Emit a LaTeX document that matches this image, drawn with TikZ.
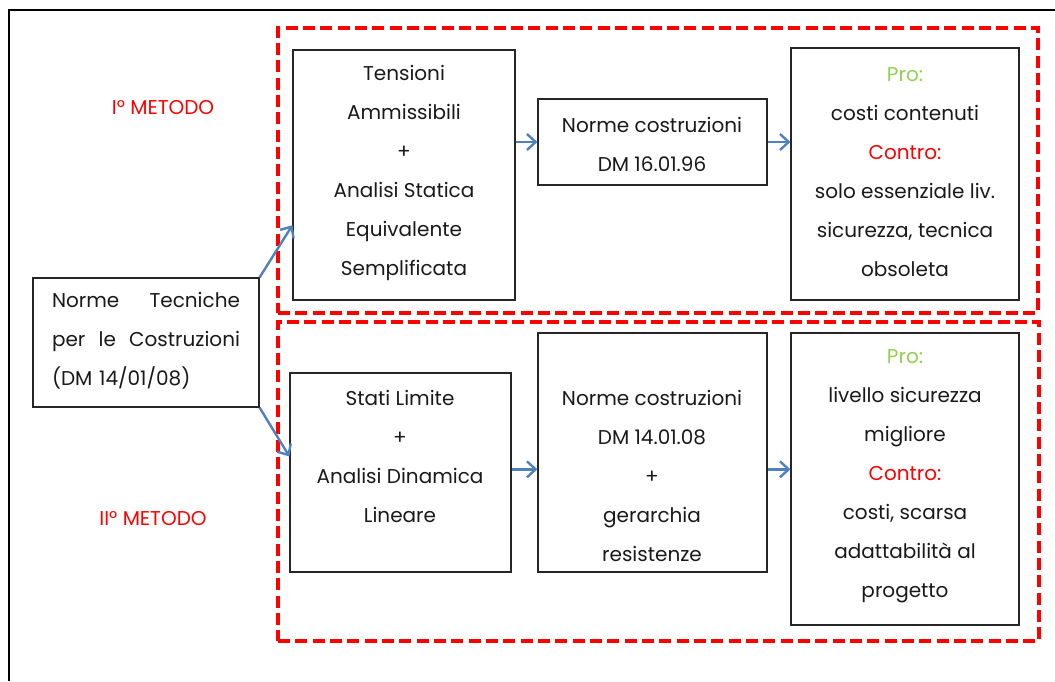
\documentclass[tikz,border=0pt]{standalone}
\usepackage{fontspec}
\setmainfont{Poppins}
\usetikzlibrary{arrows.meta,fit,calc}
\definecolor{redm}{HTML}{FF0000}
\definecolor{greenp}{HTML}{92D050}
\definecolor{bluea}{HTML}{4F81BD}
\begin{document}
\begin{tikzpicture}[x=0.75pt,y=-0.75pt,
  box/.style={draw=black!85, line width=0.9pt, inner sep=0pt},
  txt/.style={align=center, font=\fontsize{15}{29.25}\selectfont, text=black!90, inner sep=0pt},
  lbl/.style={font=\fontsize{15}{18}\selectfont, text=redm, inner sep=0pt},
  group/.style={draw=redm, line width=3.6pt, dash pattern=on 9pt off 4pt, inner sep=0pt},
  conn/.style={draw=bluea, line width=1.8pt, -{Straight Barb[length=6.5pt,width=12pt,line width=1.8pt]}},
  frame/.style={draw=black, line width=1.6pt}
]
\useasboundingbox (0,0) rectangle (1055,681);
% outer frame (top and left edges visible)
\coordinate (fA) at (9,681);
\coordinate (fB) at (9,10);
\coordinate (fC) at (1055,10);
\draw[frame] (fA) -- (fB) -- (fC);

% red dashed groups
\node[group, fit={(278,28)(1038,313)}] (g1) {};
\node[group, fit={(278,322)(1039,641)}] (g2) {};

% boxes
\node[box, fit={(33,278)(259,407)}] (lb) {};
\node[box, fit={(293,50)(515,300)}] (tens) {};
\node[box, fit={(538,99)(767,185)}] (n1) {};
\node[box, fit={(791,48)(1019,300)}] (p1) {};
\node[box, fit={(290,373)(511,572)}] (stati) {};
\node[box, fit={(538,333)(767,572)}] (n2) {};
\node[box, fit={(791,333)(1019,625)}] (p2) {};

% texts
\node[txt, align=left, text width=141pt] (lbt) at (146,341)
  {\leavevmode\hbox to 141pt{Norme\hfill Tecniche}\\
   \leavevmode\hbox to 141pt{per\hfill le\hfill Costruzioni}\\
   (DM 14/01/08)};
\node[txt] (tenst) at (404,173) {Tensioni\\Ammissibili\\+\\Analisi Statica\\Equivalente\\Semplificata};
\node[txt] (n1t) at (652,144) {Norme costruzioni\\DM 16.01.96};
\node[txt] (p1t) at (905,172) {\textcolor{greenp}{Pro:}\\costi contenuti\\\textcolor{redm}{Contro:}\\solo essenziale liv.\\sicurezza, tecnica\\obsoleta};
\node[txt] (statit) at (400,456) {Stati Limite\\+\\Analisi Dinamica\\Lineare};
\node[txt] (n2t) at (652,476) {Norme costruzioni\\DM 14.01.08\\+\\gerarchia\\resistenze};
\node[txt] (p2t) at (905,476) {\textcolor{greenp}{Pro:}\\livello sicurezza\\migliore\\\textcolor{redm}{Contro:}\\costi, scarsa\\adattabilità al\\progetto};

% method labels
\node[lbl] (m1) at (163,108) {I° METODO};
\node[lbl] (m2) at (153,519) {II° METODO};

% connectors
\draw[conn] (lb.north east) -- ($(tens.south west)!0.3!(tens.north west)$);
\draw[conn] (lb.south east) -- ($(stati.south west)!0.58!(stati.north west)$);
\draw[conn] (tens.east |- n1.west) -- (n1.west);
\draw[conn] (n1.east) -- (p1.west |- n1.east);
\coordinate (r2) at ($(n2.north west)!0.57!(n2.south west)$);
\draw[conn] (stati.east |- r2) -- (r2);
\draw[conn] (n2.east |- r2) -- (p2.west |- r2);
\end{tikzpicture}
\end{document}
